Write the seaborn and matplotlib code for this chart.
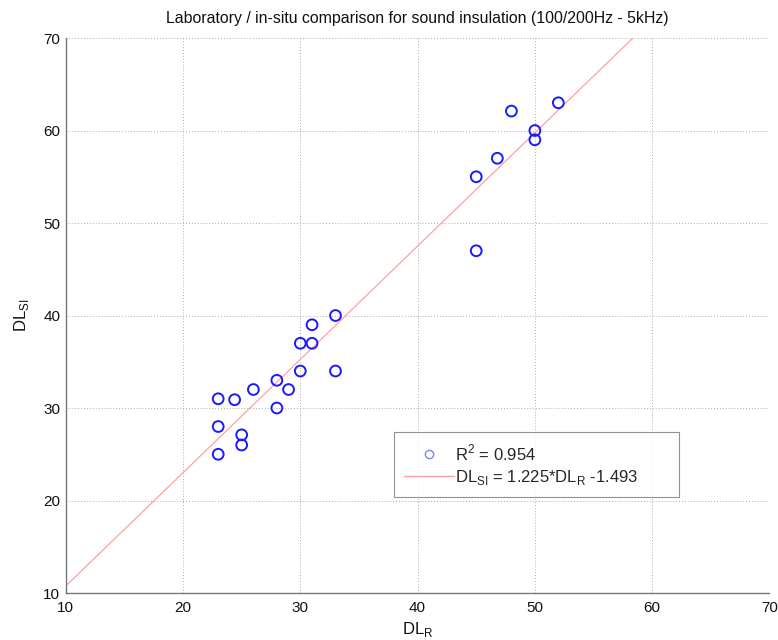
import matplotlib
matplotlib.use("Agg")
import matplotlib.pyplot as plt
import seaborn as sns
import numpy as np
import pandas as pd
from matplotlib.lines import Line2D

dl_r = [23, 23, 23, 24.4, 25, 25, 26, 28, 28, 29, 30, 30, 31, 31, 33, 33,
        45, 45, 46.8, 48, 50, 50, 52]
dl_si = [31, 28, 25, 30.9, 27.1, 26, 32, 33, 30, 32, 34, 37, 37, 39, 40, 34,
         55, 47, 57, 62.1, 60, 59, 63]
slope = 1.225
intercept = -1.493
r2 = 0.954
title = "Laboratory / in-situ comparison for sound insulation (100/200Hz - 5kHz)"

sns.set_theme(style="white")
plt.rcParams['font.family'] = ['Liberation Sans', 'DejaVu Sans']

fig = plt.figure(figsize=(7.78, 6.4), dpi=100)
ax = fig.add_axes([0.0845, 0.0734, 0.9045, 0.8672])

df = pd.DataFrame({"x": dl_r, "y": dl_si})
sns.scatterplot(data=df, x="x", y="y", ax=ax, marker="o", s=60,
                facecolors="none", edgecolor="#1a1aff", linewidth=1.4,
                legend=False, zorder=3)

xl = np.array([10, 70])
line_df = pd.DataFrame({"x": xl, "y": slope * xl + intercept})
sns.lineplot(data=line_df, x="x", y="y", ax=ax, color="#ffa0a0",
             linewidth=0.9, legend=False, zorder=2)

ax.set_xlim(10, 70)
ax.set_ylim(10, 70)
ticks = [10, 20, 30, 40, 50, 60, 70]
ax.set_xticks(ticks)
ax.set_yticks(ticks)
ax.tick_params(axis="both", direction="in", length=5, width=0.8,
               color="#777777", labelsize=11, labelcolor="#111111")
ax.tick_params(axis="x", pad=6)
ax.tick_params(axis="y", pad=4)
ax.grid(True, linestyle=(0, (1, 2)), color="#aaaaaa", linewidth=0.7)
for s in ["top", "right"]:
    ax.spines[s].set_visible(False)
for s in ["left", "bottom"]:
    ax.spines[s].set_color("#777777")
    ax.spines[s].set_linewidth(1.0)

ax.set_title(title, fontsize=11.4, color="#111111", pad=11)
ax.set_xlabel("DL$_\\mathregular{R}$", fontsize=12, color="#111111", labelpad=3)
ax.set_ylabel("DL$_\\mathregular{SI}$", fontsize=12, color="#111111", labelpad=9)

handles = [
    Line2D([], [], marker="o", linestyle="none", markerfacecolor="none",
           markeredgecolor="#8080ff", markersize=6, markeredgewidth=1.0),
    Line2D([], [], color="#ffa0a0", linewidth=1.0),
]
labels = [f"R$^\\mathregular{{2}}$ = {r2}",
          f"DL$_\\mathregular{{SI}}$ = {slope}*DL$_\\mathregular{{R}}$ {intercept}"]
leg = ax.legend(handles, labels, loc="lower left",
                bbox_to_anchor=(0.466, 0.173, 0.406, 0.12), mode="expand",
                fontsize=12, frameon=True, fancybox=False, handlelength=3.0,
                handletextpad=0.1, borderpad=0.6, labelspacing=0.3,
                borderaxespad=0)
leg.get_frame().set_edgecolor("#777777")
leg.get_frame().set_linewidth(0.8)

fig.savefig("out.png", dpi=100)
